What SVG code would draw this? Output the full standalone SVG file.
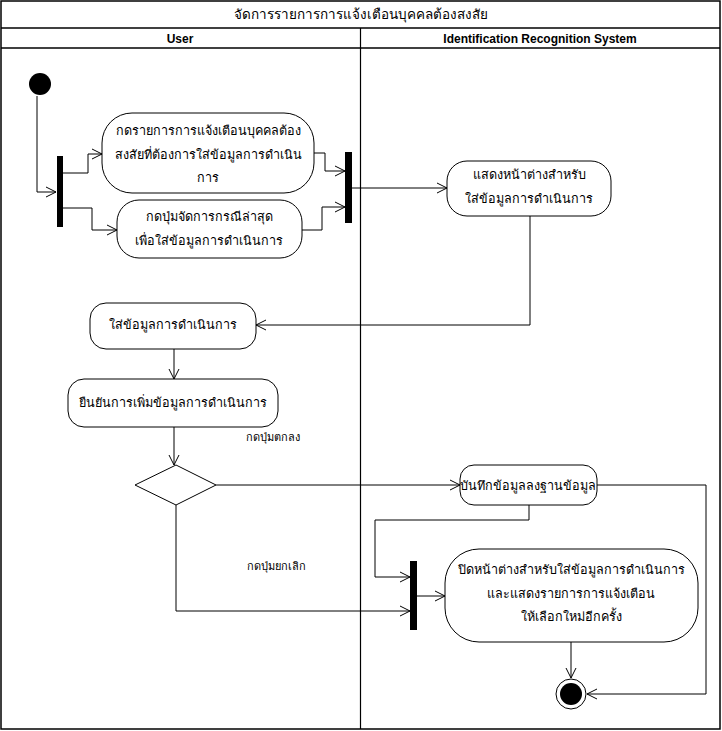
<svg xmlns="http://www.w3.org/2000/svg" width="722" height="731" viewBox="0 0 722 731">
<defs>
<marker id="arr" markerWidth="12" markerHeight="12" refX="10" refY="6" orient="auto" markerUnits="userSpaceOnUse">
<path d="M0,1 L10,6 L0,11" fill="none" stroke="#000" stroke-width="1"/>
</marker>
<style>
.box{fill:#fff;stroke:#000;stroke-width:1}
.t{font-family:"Liberation Sans",Tahoma,sans-serif;font-size:12.6px;fill:#000;text-anchor:middle}
.ti{font-family:"Liberation Sans",Tahoma,sans-serif;font-size:13.5px;fill:#000;text-anchor:middle}
.h{font-family:"Liberation Sans",Arial,sans-serif;font-size:12px;font-weight:bold;fill:#000;text-anchor:middle}
.lbl{font-family:"Liberation Sans",Tahoma,sans-serif;font-size:11px;fill:#000;text-anchor:middle}
.c{fill:none;stroke:#000;stroke-width:1}
.bar{fill:#000}
</style>
</defs>
<g id="frame">
<rect x="1" y="1" width="719" height="728" fill="#fff" stroke="#000" stroke-width="1.5"/>
<line x1="1" y1="28" x2="720" y2="28" stroke="#000" stroke-width="1.5"/>
<line x1="1" y1="48" x2="720" y2="48" stroke="#000" stroke-width="1.5"/>
<line x1="360.5" y1="28" x2="360.5" y2="729" stroke="#000" stroke-width="1.2"/>
<text class="ti" x="361" y="19">จัดการรายการการแจ้งเตือนบุคคลต้องสงสัย</text>
<text class="h" x="180" y="43">User</text>
<text class="h" x="540" y="43">Identification Recognition System</text>
</g>
<g id="connectors">
<polyline class="c" points="37,96 37,192 56,192" marker-end="url(#arr)"/>
<polyline class="c" points="63,173 88,173 88,154 102,154" marker-end="url(#arr)"/>
<polyline class="c" points="63,208 92,208 92,230 117,230" marker-end="url(#arr)"/>
<polyline class="c" points="314,153 325,153 325,171 345,171" marker-end="url(#arr)"/>
<polyline class="c" points="302,230 322,230 322,207 345,207" marker-end="url(#arr)"/>
<polyline class="c" points="352,188 447,188" marker-end="url(#arr)"/>
<polyline class="c" points="530,216 530,325 256,325" marker-end="url(#arr)"/>
<polyline class="c" points="174,349 174,379" marker-end="url(#arr)"/>
<polyline class="c" points="174,427 174,465" marker-end="url(#arr)"/>
<polyline class="c" points="216,485 460,485" marker-end="url(#arr)"/>
<polyline class="c" points="597,485 706,485 706,694 587,694" marker-end="url(#arr)"/>
<polyline class="c" points="529,505 529,520 375,520 375,577 410,577" marker-end="url(#arr)"/>
<polyline class="c" points="176,505 176,611 410,611" marker-end="url(#arr)"/>
<polyline class="c" points="417,596 445,596" marker-end="url(#arr)"/>
<polyline class="c" points="571,642 571,678" marker-end="url(#arr)"/>
<text class="lbl" x="273" y="441">กดปุ่มตกลง</text>
<text class="lbl" x="276" y="570">กดปุ่มยกเลิก</text>
</g>
<g id="start"><circle cx="40" cy="84" r="11" fill="#000"/></g>
<g id="fork1"><rect class="bar" x="57" y="156" width="6" height="71"/></g>
<g id="n1">
<rect class="box" x="102" y="113" width="212" height="80" rx="30" ry="30"/>
<text class="t" x="208" y="135">กดรายการการแจ้งเตือนบุคคลต้อง</text>
<text class="t" x="208" y="159">สงสัยที่ต้องการใส่ข้อมูลการดำเนิน</text>
<text class="t" x="208" y="182">การ</text>
</g>
<g id="n2">
<rect class="box" x="117" y="200" width="185" height="58" rx="22" ry="22"/>
<text class="t" x="209" y="221">กดปุ่มจัดการกรณีล่าสุด</text>
<text class="t" x="209" y="245">เพื่อใส่ข้อมูลการดำเนินการ</text>
</g>
<g id="join1"><rect class="bar" x="345" y="152" width="7" height="71"/></g>
<g id="n3">
<rect class="box" x="447" y="161" width="164" height="55" rx="20" ry="20"/>
<text class="t" x="529" y="179">แสดงหน้าต่างสำหรับ</text>
<text class="t" x="529" y="203">ใส่ข้อมูลการดำเนินการ</text>
</g>
<g id="n4">
<rect class="box" x="90" y="303" width="166" height="46" rx="16" ry="16"/>
<text class="t" x="173" y="329">ใส่ข้อมูลการดำเนินการ</text>
</g>
<g id="n5">
<rect class="box" x="68" y="379" width="210" height="48" rx="16" ry="16"/>
<text class="t" x="173" y="407">ยืนยันการเพิ่มข้อมูลการดำเนินการ</text>
</g>
<g id="decision"><polygon class="box" points="176,465 216,485 176,505 135,485"/></g>
<g id="n6">
<rect class="box" x="460" y="465" width="137" height="40" rx="14" ry="14"/>
<text class="t" x="528" y="490">บันทึกข้อมูลลงฐานข้อมูล</text>
</g>
<g id="join2"><rect class="bar" x="410" y="561" width="7" height="69"/></g>
<g id="n7">
<rect class="box" x="445" y="549" width="253" height="93" rx="34" ry="34"/>
<text class="t" x="571" y="574">ปิดหน้าต่างสำหรับใส่ข้อมูลการดำเนินการ</text>
<text class="t" x="571" y="598">และแสดงรายการการแจ้งเตือน</text>
<text class="t" x="571" y="621">ให้เลือกใหม่อีกครั้ง</text>
</g>
<g id="end">
<circle cx="571" cy="694" r="15" fill="#fff" stroke="#000" stroke-width="1"/>
<circle cx="571" cy="694" r="11" fill="#000"/>
</g>
</svg>
